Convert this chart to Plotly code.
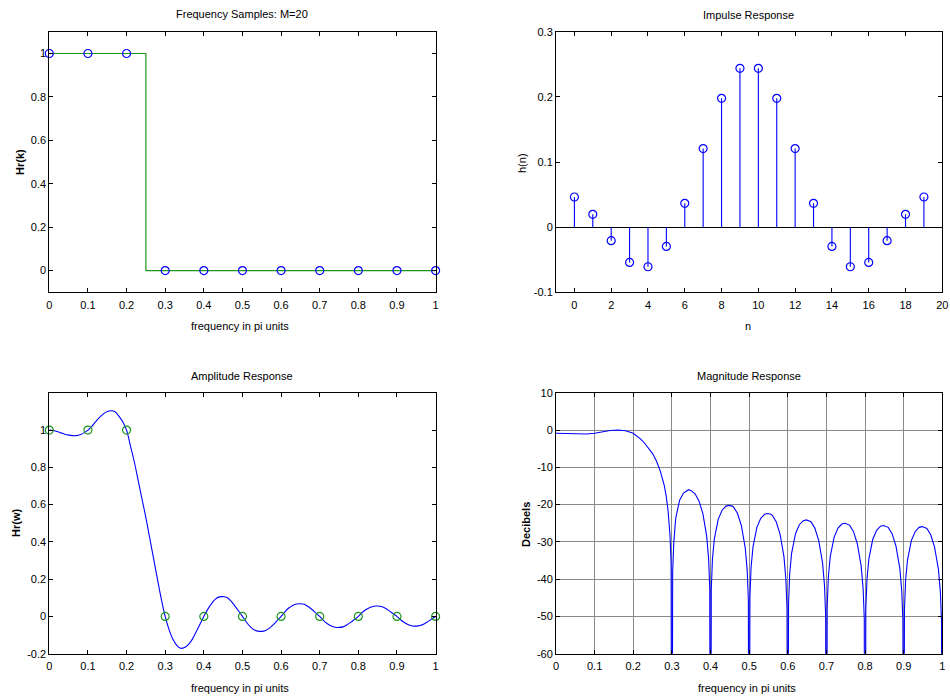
import plotly.graph_objects as go

# ---------------- data ----------------
# Frequency samples (pi units) and sampled amplitude Hr(k)
k_freq = [0.0, 0.1, 0.2, 0.3, 0.4, 0.5, 0.6, 0.7, 0.8, 0.9, 1.0]
Hr_k = [1, 1, 1, 0, 0, 0, 0, 0, 0, 0, 0]

# Ideal (green) response outline
w_ideal = [0.0, 0.25, 0.25, 1.0]
Hr_ideal = [1, 1, 0, 0]

# Impulse response h(n)
n_idx = list(range(20))
h_n = [0.0463, 0.0197, -0.0207, -0.0542, -0.0608, -0.0295, 0.0366, 0.1207, 0.1979, 0.2439,
       0.2439, 0.1979, 0.1207, 0.0366, -0.0295, -0.0608, -0.0542, -0.0207, 0.0197, 0.0463]

# Amplitude response Hr(w)
w_amp = [0.00, 0.01, 0.02, 0.03, 0.04, 0.05, 0.06, 0.07, 0.08, 0.09,
         0.10, 0.11, 0.12, 0.13, 0.14, 0.15, 0.16, 0.17, 0.18, 0.19,
         0.20, 0.21, 0.22, 0.23, 0.24, 0.25, 0.26, 0.27, 0.28, 0.29,
         0.30, 0.31, 0.32, 0.33, 0.34, 0.35, 0.36, 0.37, 0.38, 0.39,
         0.40, 0.41, 0.42, 0.43, 0.44, 0.45, 0.46, 0.47, 0.48, 0.49,
         0.50, 0.51, 0.52, 0.53, 0.54, 0.55, 0.56, 0.57, 0.58, 0.59,
         0.60, 0.61, 0.62, 0.63, 0.64, 0.65, 0.66, 0.67, 0.68, 0.69,
         0.70, 0.71, 0.72, 0.73, 0.74, 0.75, 0.76, 0.77, 0.78, 0.79,
         0.80, 0.81, 0.82, 0.83, 0.84, 0.85, 0.86, 0.87, 0.88, 0.89,
         0.90, 0.91, 0.92, 0.93, 0.94, 0.95, 0.96, 0.97, 0.98, 0.99, 1.00]
Hr_w = [1.000, 0.998, 0.992, 0.985, 0.978, 0.973, 0.970, 0.970, 0.975, 0.985,
        1.000, 1.020, 1.045, 1.068, 1.087, 1.100, 1.104, 1.098, 1.075, 1.045,
        1.000, 0.915, 0.830, 0.730, 0.630, 0.530, 0.420, 0.310, 0.200, 0.093,
        0.000, -0.071, -0.123, -0.155, -0.171, -0.167, -0.151, -0.123, -0.083, -0.042,
        0.000, 0.038, 0.069, 0.093, 0.105, 0.106, 0.102, 0.083, 0.057, 0.029,
        0.000, -0.030, -0.055, -0.072, -0.079, -0.080, -0.075, -0.063, -0.044, -0.022,
        0.000, 0.025, 0.045, 0.059, 0.067, 0.068, 0.065, 0.053, 0.037, 0.018,
        0.000, -0.022, -0.039, -0.051, -0.058, -0.059, -0.056, -0.046, -0.032, -0.016,
        0.000, 0.021, 0.037, 0.048, 0.055, 0.056, 0.053, 0.044, 0.030, 0.015,
        0.000, -0.019, -0.034, -0.045, -0.051, -0.052, -0.049, -0.041, -0.028, -0.014, 0.000]

# Magnitude response in dB (nulls drop far below the -60 dB floor)
w_db = [0.00, 0.02, 0.04, 0.06, 0.08, 0.10, 0.12, 0.14, 0.16, 0.18, 0.20,
        0.21, 0.22, 0.23, 0.24, 0.25, 0.26, 0.27, 0.28, 0.285, 0.29, 0.295, 0.298, 0.30,
        0.302, 0.305, 0.31, 0.32, 0.33, 0.34, 0.343, 0.35, 0.36, 0.37, 0.38, 0.39, 0.395, 0.398, 0.40,
        0.402, 0.405, 0.41, 0.42, 0.43, 0.44, 0.447, 0.456, 0.46, 0.47, 0.48, 0.49, 0.495, 0.498, 0.50,
        0.502, 0.505, 0.51, 0.52, 0.53, 0.54, 0.548, 0.556, 0.56, 0.57, 0.58, 0.59, 0.595, 0.598, 0.60,
        0.602, 0.605, 0.61, 0.62, 0.63, 0.64, 0.648, 0.656, 0.66, 0.67, 0.68, 0.69, 0.695, 0.698, 0.70,
        0.702, 0.705, 0.71, 0.72, 0.73, 0.74, 0.748, 0.756, 0.76, 0.77, 0.78, 0.79, 0.795, 0.798, 0.80,
        0.802, 0.805, 0.81, 0.82, 0.83, 0.84, 0.848, 0.856, 0.86, 0.87, 0.88, 0.89, 0.895, 0.898, 0.90,
        0.902, 0.905, 0.91, 0.92, 0.93, 0.94, 0.948, 0.956, 0.96, 0.97, 0.98, 0.99, 0.995, 0.998, 1.00]
mag_db = [-0.86, -0.92, -1.05, -1.12, -1.05, -0.86, -0.48, -0.12, 0.0, -0.2, -0.86,
          -1.6, -2.5, -3.6, -4.9, -6.3, -8.3, -11.0, -14.8, -17.5, -21.5, -28.0, -36.0, -150,
          -38.0, -30.0, -23.6, -18.8, -16.9, -16.05, -16.0, -16.25, -17.1, -19.0, -22.3, -28.4, -34.4, -42.4, -150,
          -42.7, -34.6, -29.1, -23.9, -21.5, -20.4, -20.2, -20.4, -20.7, -22.4, -25.7, -31.7, -37.7, -45.7, -150,
          -44.9, -36.8, -31.3, -26.1, -23.7, -22.6, -22.4, -22.6, -22.9, -24.6, -27.9, -33.9, -39.9, -47.9, -150,
          -46.6, -38.5, -33.0, -27.8, -25.4, -24.3, -24.1, -24.3, -24.6, -26.3, -29.6, -35.6, -41.6, -49.6, -150,
          -47.5, -39.4, -33.9, -28.7, -26.3, -25.2, -25.0, -25.2, -25.5, -27.2, -30.5, -36.5, -42.5, -50.5, -150,
          -48.1, -40.0, -34.5, -29.3, -26.9, -25.8, -25.6, -25.8, -26.1, -27.8, -31.1, -37.1, -43.1, -51.1, -150,
          -48.4, -40.3, -34.8, -29.6, -27.2, -26.1, -25.9, -26.1, -26.4, -28.1, -31.4, -37.4, -43.4, -51.4, -150]

# Tick labels
freq_ticks = [0, 0.1, 0.2, 0.3, 0.4, 0.5, 0.6, 0.7, 0.8, 0.9, 1]
freq_ticktext = ["0", "0.1", "0.2", "0.3", "0.4", "0.5", "0.6", "0.7", "0.8", "0.9", "1"]
hrk_ticks = [0, 0.2, 0.4, 0.6, 0.8, 1]
hrk_ticktext = ["0", "0.2", "0.4", "0.6", "0.8", "1"]
n_ticks = [0, 2, 4, 6, 8, 10, 12, 14, 16, 18, 20]
n_ticktext = ["0", "2", "4", "6", "8", "10", "12", "14", "16", "18", "20"]
h_ticks = [-0.1, 0, 0.1, 0.2, 0.3]
h_ticktext = ["-0.1", "0", "0.1", "0.2", "0.3"]
hrw_ticks = [-0.2, 0, 0.2, 0.4, 0.6, 0.8, 1]
hrw_ticktext = ["-0.2", "0", "0.2", "0.4", "0.6", "0.8", "1"]
db_ticks = [-60, -50, -40, -30, -20, -10, 0, 10]
db_ticktext = ["-60", "-50", "-40", "-30", "-20", "-10", "0", "10"]

# ---------------- styling ----------------
FONT = "Liberation Sans Narrow, Arial Narrow, Liberation Sans, Arial, sans-serif"
FS = 11
BLUE = "#0000ff"
GREEN = "#1e961e"

fig = go.Figure()

# Top-left: frequency samples
fig.add_trace(go.Scatter(x=w_ideal, y=Hr_ideal, mode="lines",
                         line=dict(color=GREEN, width=1.2), xaxis="x", yaxis="y"))
fig.add_trace(go.Scatter(x=k_freq, y=Hr_k, mode="markers", cliponaxis=False,
                         marker=dict(symbol="circle-open", size=8, color=BLUE, line=dict(width=1.2)),
                         xaxis="x", yaxis="y"))

# Top-right: impulse response stems
stem_x, stem_y = [], []
for ni, hv in zip(n_idx, h_n):
    stem_x += [ni, ni, None]
    stem_y += [0, hv, None]
fig.add_trace(go.Scatter(x=stem_x, y=stem_y, mode="lines",
                         line=dict(color=BLUE, width=1.1), xaxis="x2", yaxis="y2"))
fig.add_trace(go.Scatter(x=n_idx, y=h_n, mode="markers", cliponaxis=False,
                         marker=dict(symbol="circle-open", size=8, color=BLUE, line=dict(width=1.2)),
                         xaxis="x2", yaxis="y2"))

# Bottom-left: amplitude response
fig.add_trace(go.Scatter(x=w_amp, y=Hr_w, mode="lines", line_shape="spline",
                         line=dict(color=BLUE, width=1.1), xaxis="x3", yaxis="y3"))
fig.add_trace(go.Scatter(x=k_freq, y=Hr_k, mode="markers", cliponaxis=False,
                         marker=dict(symbol="circle-open", size=8, color=GREEN, line=dict(width=1.2)),
                         xaxis="x3", yaxis="y3"))

# Bottom-right: magnitude response in dB
fig.add_trace(go.Scatter(x=w_db, y=mag_db, mode="lines",
                         line=dict(color=BLUE, width=1.1), xaxis="x4", yaxis="y4"))

def ax(**kw):
    base = dict(showline=True, linecolor="black", linewidth=1, mirror="allticks",
                ticks="inside", ticklen=4, tickcolor="black", tickwidth=1,
                showgrid=False, zeroline=False, fixedrange=True, automargin=False,
                tickfont=dict(family=FONT, size=FS, color="black"))
    base.update(kw)
    return base

XL = [49.3 / 950, 435.6 / 950]
XR = [556.0 / 950, 942.3 / 950]
YT = [1 - 292.3 / 700, 1 - 31.8 / 700]
YB = [1 - 653.7 / 700, 1 - 392.8 / 700]
XSTAND = 2

fig.update_layout(
    width=950, height=700,
    margin=dict(l=0, r=0, t=0, b=0, autoexpand=False),
    paper_bgcolor="white", plot_bgcolor="white",
    showlegend=False,
    font=dict(family=FONT, size=FS, color="black"),
    xaxis=ax(domain=XL, anchor="y", range=[0, 1], tickvals=freq_ticks, ticktext=freq_ticktext,
             ticklabelstandoff=XSTAND),
    yaxis=ax(domain=YT, anchor="x", range=[-0.1, 1.1], tickvals=hrk_ticks, ticktext=hrk_ticktext),
    xaxis2=ax(domain=XR, anchor="y2", range=[-1, 20], tickvals=n_ticks, ticktext=n_ticktext,
              ticklabelstandoff=XSTAND),
    yaxis2=ax(domain=YT, anchor="x2", range=[-0.1, 0.3], tickvals=h_ticks, ticktext=h_ticktext,
              zeroline=True, zerolinecolor="black", zerolinewidth=1),
    xaxis3=ax(domain=XL, anchor="y3", range=[0, 1], tickvals=freq_ticks, ticktext=freq_ticktext,
              ticklabelstandoff=XSTAND),
    yaxis3=ax(domain=YB, anchor="x3", range=[-0.2, 1.2], tickvals=hrw_ticks, ticktext=hrw_ticktext),
    xaxis4=ax(domain=XR, anchor="y4", range=[0, 1], tickvals=freq_ticks, ticktext=freq_ticktext,
              showgrid=True, gridcolor="#8a8a8a", gridwidth=1, ticklabelstandoff=XSTAND),
    yaxis4=ax(domain=YB, anchor="x4", range=[-60, 10], tickvals=db_ticks, ticktext=db_ticktext,
              showgrid=True, gridcolor="#8a8a8a", gridwidth=1),
)

def label(text, x, y, angle=0, bold=False, size=FS):
    fig.add_annotation(text=("<b>%s</b>" % text) if bold else text,
                       x=x / 950, y=1 - y / 700, xref="paper", yref="paper",
                       showarrow=False, textangle=angle, xanchor="center", yanchor="middle",
                       font=dict(family=FONT, size=size, color="black"))

# Titles
label("Frequency Samples: M=20", 242, 14)
label("Impulse Response", 748, 15)
label("Amplitude Response", 242, 376)
label("Magnitude Response", 749, 376)
# X labels
label("frequency in pi units", 240, 326)
label("n", 748, 326)
label("frequency in pi units", 240, 688)
label("frequency in pi units", 747, 688)
# Y labels
label("Hr(k)", 20, 162, angle=-90, bold=True)
label("h(n)", 522, 163, angle=-90)
label("Hr(w)", 16, 523, angle=-90, bold=True)
label("Decibels", 526, 525, angle=-90, bold=True)

fig.write_html("out.html")
